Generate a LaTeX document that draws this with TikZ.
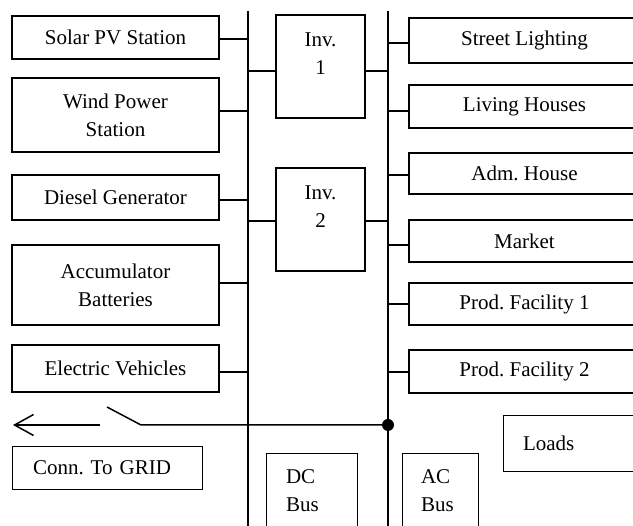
\documentclass[tikz,border=0pt]{standalone}
\usepackage{fontspec}
\setmainfont{Liberation Serif}
\usetikzlibrary{arrows.meta, positioning}
\frenchspacing

\begin{document}
\begin{tikzpicture}[x=1pt, y=-1pt,
  font=\fontsize{21}{28}\selectfont,
  lbox/.style={draw, line width=1.5pt, minimum width=207pt, align=center, inner sep=0pt},
  rbox/.style={draw, line width=1.5pt, minimum width=231pt, align=center, inner sep=0pt},
  invbox/.style={draw, line width=1.5pt, minimum width=89pt, minimum height=103pt, inner sep=0pt},
  tagbox/.style={draw, line width=0.9pt, align=left, inner ysep=0pt},
  wire/.style={line width=1.5pt},
  bus/.style={line width=1.8pt}]
  \useasboundingbox (0,0) rectangle (633,526);
  \clip (0,0) rectangle (633,526);
  % buses
  \coordinate (dctop) at (248,11);
  \coordinate (dcbot) at (248,530);
  \coordinate (actop) at (388,11);
  \coordinate (acbot) at (388,530);
  \draw[bus] (dctop) -- (dcbot);
  \draw[bus] (actop) -- (acbot);
  % sources on the DC side
  \node[lbox, minimum height=43pt] (solar) at (115.5,37.5) {Solar PV Station};
  \node[lbox, minimum height=74pt] (wind) at (115.5,115) {Wind Power\\Station};
  \node[lbox, minimum height=45pt] (diesel) at (115.5,197.5) {Diesel Generator};
  \node[lbox, minimum height=80pt] (accu) at (115.5,285) {Accumulator\\Batteries};
  \node[lbox, minimum height=47pt] (ev) at (115.5,368.5) {Electric Vehicles};
  \foreach \n/\dy in {solar/-1.5,wind/4,diesel/-2.5,accu/2,ev/-3.5}
    \draw[wire] ([yshift=\dy pt]\n.east) -- ([yshift=\dy pt]\n.east -| dctop);
  % inverters
  \node[invbox, label={[anchor=north, align=center, yshift=-15pt]north:{Inv.\\1}}] (inv1) at (320.5,66.5) {};
  \node[invbox, label={[anchor=north, align=center, yshift=-15pt]north:{Inv.\\2}}] (inv2) at (320.5,219.5) {};
  \draw[wire] ([yshift=-4.5pt]inv1.west) -- ([yshift=-4.5pt]inv1.west -| dctop);
  \draw[wire] ([yshift=-4.5pt]inv1.east) -- ([yshift=-4.5pt]inv1.east -| actop);
  \draw[wire] ([yshift=-1.5pt]inv2.west) -- ([yshift=-1.5pt]inv2.west -| dctop);
  \draw[wire] ([yshift=-1.5pt]inv2.east) -- ([yshift=-1.5pt]inv2.east -| actop);
  % loads on the AC side
  \node[rbox, minimum height=45pt] (street) at (524.5,40.5) {Street Lighting};
  \node[rbox, minimum height=43pt] (living) at (524.5,106.5) {Living Houses};
  \node[rbox, minimum height=41pt] (adm) at (524.5,173.5) {Adm. House};
  \node[rbox, minimum height=42pt] (market) at (524.5,241) {Market};
  \node[rbox, minimum height=42pt] (prodA) at (524.5,304) {Prod. Facility 1};
  \node[rbox, minimum height=43pt] (prodB) at (524.5,371.5) {Prod. Facility 2};
  \foreach \n/\dy in {street/-2.5,living/-4.5,adm/-1.5,market/-4,prodA/0,prodB/-0.5}
    \draw[wire] ([yshift=\dy pt]\n.west) -- ([yshift=\dy pt]\n.west -| actop);
  % grid connection with switch
  \node[circle, fill, inner sep=0pt, minimum size=12pt] (jn) at (388,425) {};
  \coordinate (sw) at (141,425);
  \coordinate (swtip) at (107,407);
  \coordinate (gridstart) at (100,425);
  \coordinate (grid) at (13,425);
  \draw[wire] (jn) -- (sw) -- (swtip);
  \draw[wire, -{Straight Barb[length=19pt, width=21pt]}] (gridstart) -- (grid);
  % tags
  \node[tagbox, text width=148pt, inner xsep=21pt, minimum height=43pt] (conn) at (107,467.5) {Conn. To GRID};
  \node[tagbox, text width=51pt, inner xsep=20pt, minimum height=75pt] (dctag) at (311.5,490.5) {DC\\Bus};
  \node[tagbox, text width=38pt, inner xsep=19pt, minimum height=75pt] (actag) at (440,490.5) {AC\\Bus};
  \node[tagbox, text width=97pt, inner xsep=20pt, minimum height=56pt] (loads) at (571.5,443) {Loads};
\end{tikzpicture}
\end{document}
